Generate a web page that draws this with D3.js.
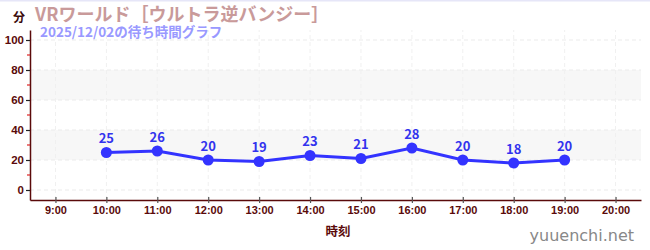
<!DOCTYPE html>
<html>
<head>
<meta charset="utf-8">
<script src="https://cdn.jsdelivr.net/npm/d3@7"></script>
<style>
  body { margin: 0; background: #fff; }
  svg { display: block; font-family: "Noto Sans CJK JP", "Noto Sans", sans-serif; }
</style>
</head>
<body>
<div id="chart"></div>
<script>
// wait times (minutes) per hour
var hours = [10, 11, 12, 13, 14, 15, 16, 17, 18, 19];
var waits = [25, 26, 20, 19, 23, 21, 28, 20, 18, 20];
var xTicks = [9, 10, 11, 12, 13, 14, 15, 16, 17, 18, 19, 20];
var yTicks = [0, 20, 40, 60, 80, 100];
var yMinor = [10, 30, 50, 70, 90];
var bands = [[20, 40], [60, 80]];

var width = 650, height = 250;
var svg = d3.select("#chart").append("svg")
  .attr("width", width).attr("height", height);

// scales
var x = d3.scaleLinear().domain([8.5, 20.5]).range([30, 641]);
var y = d3.scaleLinear().domain([-6.67, 106.67]).range([200, 30]);

// top border
svg.append("rect").attr("x", 0).attr("y", 0).attr("width", width).attr("height", 1.5)
  .attr("fill", "#e6e6f8");

// background bands
svg.append("g").selectAll("rect").data(bands).enter().append("rect")
  .attr("x", x.range()[0]).attr("width", x.range()[1] - x.range()[0])
  .attr("y", function(d) { return y(d[1]); })
  .attr("height", function(d) { return y(d[0]) - y(d[1]); })
  .attr("fill", "#f7f7f7");

// grid
svg.append("g").selectAll("line").data(yTicks).enter().append("line")
  .attr("x1", x.range()[0]).attr("x2", x.range()[1])
  .attr("y1", function(d) { return y(d); }).attr("y2", function(d) { return y(d); })
  .attr("stroke", "#ebebeb").attr("stroke-dasharray", "4,3");
svg.append("g").selectAll("line").data(xTicks).enter().append("line")
  .attr("y1", y.range()[0]).attr("y2", y.range()[1])
  .attr("x1", function(d) { return x(d); }).attr("x2", function(d) { return x(d); })
  .attr("stroke", "#f0f0f0").attr("stroke-dasharray", "4,3");

var axisColor = "#5a0a0a";

// y axis
var yAxis = svg.append("g")
  .attr("transform", "translate(30,0)")
  .call(d3.axisLeft(y).tickValues(yTicks).tickSize(4).tickSizeOuter(0));
yAxis.select(".domain").attr("stroke", axisColor).attr("stroke-width", 1.5);
yAxis.selectAll(".tick line").attr("stroke", "#222").attr("stroke-width", 1.2);
yAxis.selectAll(".tick text").attr("fill", axisColor).attr("font-size", 11.5)
  .attr("font-weight", "bold").attr("x", -6);
svg.append("g").selectAll("line").data(yMinor).enter().append("line")
  .attr("x1", 27).attr("x2", 30)
  .attr("y1", function(d) { return y(d); }).attr("y2", function(d) { return y(d); })
  .attr("stroke", "#dd2222").attr("stroke-width", 1.2);

// x axis
var xAxis = svg.append("g")
  .attr("transform", "translate(0,200)")
  .call(d3.axisBottom(x).tickValues(xTicks).tickSize(3).tickSizeOuter(0)
    .tickFormat(function(d) { return d + ":00"; }));
xAxis.select(".domain").attr("stroke", axisColor).attr("stroke-width", 1.5);
xAxis.selectAll(".tick line").attr("stroke", "#555").attr("stroke-width", 1.2)
  .attr("y1", -3).attr("y2", 3);
xAxis.selectAll(".tick text").attr("fill", axisColor).attr("font-size", 11)
  .attr("font-weight", "bold").attr("y", 6);

// labels
svg.append("text").attr("x", 338).attr("y", 236).attr("text-anchor", "middle")
  .attr("fill", axisColor).attr("font-size", 12.5).attr("font-weight", "bold").text("時刻");
svg.append("text").attr("x", 13).attr("y", 22)
  .attr("fill", "#3a0a0a").attr("font-size", 12).attr("font-weight", "bold").text("分");
svg.append("text").attr("x", 35).attr("y", 21)
  .attr("fill", "#c99a9a").attr("font-size", 18).attr("font-weight", "bold")
  .text("VRワールド［ウルトラ逆バンジー］");
svg.append("text").attr("x", 40).attr("y", 37)
  .attr("fill", "#9999ff").attr("font-size", 13.5).attr("font-weight", "bold")
  .text("2025/12/02の待ち時間グラフ");
svg.append("text").attr("x", 634).attr("y", 241).attr("text-anchor", "end")
  .attr("fill", "#888").attr("font-size", 16).attr("font-family", "'DejaVu Sans', sans-serif")
  .text("yuuenchi.net");

// line + points
var data = hours.map(function(h, i) { return { h: h, v: waits[i] }; });
svg.append("path").datum(data)
  .attr("fill", "none").attr("stroke", "#3333ff").attr("stroke-width", 3)
  .attr("d", d3.line().x(function(d) { return x(d.h); }).y(function(d) { return y(d.v); }));
svg.append("g").selectAll("circle").data(data).enter().append("circle")
  .attr("cx", function(d) { return x(d.h); }).attr("cy", function(d) { return y(d.v); })
  .attr("r", 5.5).attr("fill", "#3333ff");
svg.append("g").selectAll("text").data(data).enter().append("text")
  .attr("x", function(d) { return x(d.h); }).attr("y", function(d) { return y(d.v) - 9; })
  .attr("text-anchor", "middle").attr("fill", "#3333ee")
  .attr("font-size", 13).attr("font-weight", "bold")
  .text(function(d) { return d.v; });
</script>
</body>
</html>
